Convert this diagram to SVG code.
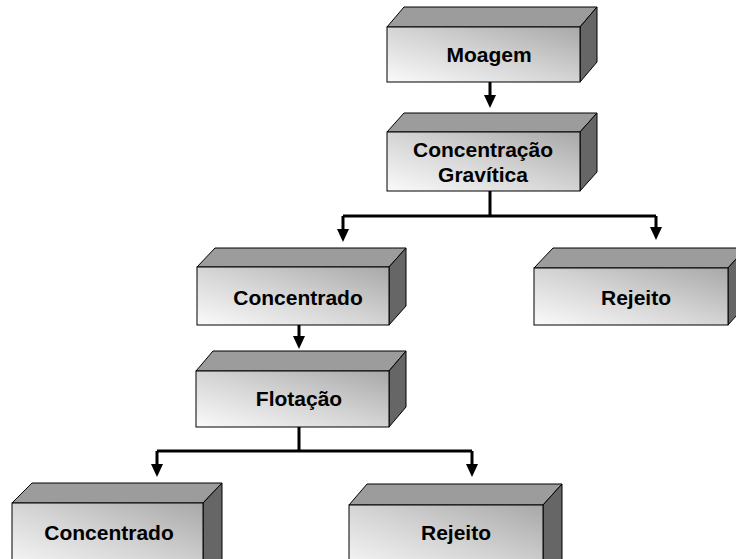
<svg xmlns="http://www.w3.org/2000/svg" width="736" height="559" viewBox="0 0 736 559">
<defs>
<linearGradient id="front" x1="1" y1="0" x2="0" y2="1">
<stop offset="0" stop-color="#a8a8a8"/>
<stop offset="0.5" stop-color="#d4d4d4"/>
<stop offset="1" stop-color="#fafafa"/>
</linearGradient>
</defs>
<style>
.f{fill:url(#front);stroke:#000;stroke-width:1}
.t{fill:#9c9c9c;stroke:#000;stroke-width:1}
.r{fill:#666;stroke:#000;stroke-width:1}
.lbl{font-family:"Liberation Sans",Arial,sans-serif;font-weight:bold;font-size:21px;fill:#000;text-anchor:middle}
.c{fill:none;stroke:#000;stroke-width:3}
</style>
<g id="connectors">
<path class="c" d="M490,82 V95"/>
<polygon points="484,95 496,95 490,108"/>
<path class="c" d="M490,191 V216 M343,216 H656 M343,216 V229 M656,216 V227"/>
<polygon points="337,229 349,229 343,242"/>
<polygon points="650,227 662,227 656,240"/>
<path class="c" d="M299,325 V336"/>
<polygon points="293,336 305,336 299,349"/>
<path class="c" d="M299,427 V451 M157,451 H472 M157,451 V464 M472,451 V464"/>
<polygon points="151,464 163,464 157,477"/>
<polygon points="466,464 478,464 472,477"/>
</g>
<g id="moagem">
<polygon class="t" points="387,27 404,7 597,7 580,27"/>
<polygon class="r" points="580,27 597,7 597,62 580,82"/>
<rect class="f" x="387" y="27" width="193" height="55"/>
<text class="lbl" x="489" y="62">Moagem</text>
</g>
<g id="concentracao">
<polygon class="t" points="387,132 404,113 597,113 580,132"/>
<polygon class="r" points="580,132 597,113 597,172 580,191"/>
<rect class="f" x="387" y="132" width="193" height="59"/>
<text class="lbl" x="483" y="157">Concentração</text>
<text class="lbl" x="483" y="182">Gravítica</text>
</g>
<g id="concentrado1">
<polygon class="t" points="197,267 215,248 406,248 389,267"/>
<polygon class="r" points="389,267 406,248 406,306 389,325"/>
<rect class="f" x="197" y="267" width="192" height="58"/>
<text class="lbl" x="298" y="305">Concentrado</text>
</g>
<g id="rejeito1">
<polygon class="t" points="534,268 553,248 746,248 728,268"/>
<polygon class="r" points="728,268 746,248 746,305 728,325"/>
<rect class="f" x="534" y="268" width="194" height="57"/>
<text class="lbl" x="636" y="305">Rejeito</text>
</g>
<g id="flotacao">
<polygon class="t" points="196,371 213,351 406,351 389,371"/>
<polygon class="r" points="389,371 406,351 406,407 389,427"/>
<rect class="f" x="196" y="371" width="193" height="56"/>
<text class="lbl" x="299" y="406">Flotação</text>
</g>
<g id="concentrado2">
<polygon class="t" points="12,503 32,483 222,483 203,503"/>
<polygon class="r" points="203,503 222,483 222,560 203,580"/>
<rect class="f" x="12" y="503" width="191" height="70"/>
<text class="lbl" x="109" y="540">Concentrado</text>
</g>
<g id="rejeito2">
<polygon class="t" points="349,505 367,484 562,484 543,505"/>
<polygon class="r" points="543,505 562,484 562,560 543,580"/>
<rect class="f" x="349" y="505" width="194" height="70"/>
<text class="lbl" x="456" y="540">Rejeito</text>
</g>
</svg>
